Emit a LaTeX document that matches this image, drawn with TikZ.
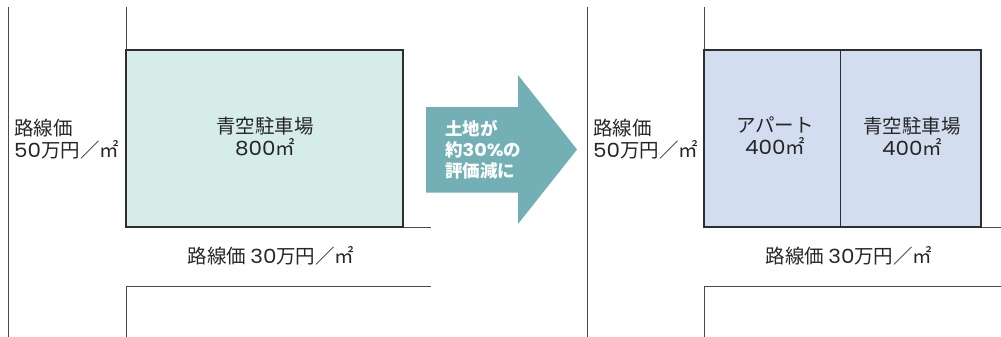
\documentclass[tikz,border=0pt]{standalone}
\usepackage{fontspec}
\newfontfamily\cjk{Noto Sans CJK JP}
\newfontfamily\dig{Poppins}[FakeStretch=1.1]
\definecolor{roadline}{HTML}{4A4A4A}
\definecolor{lotline}{HTML}{2E2E2E}
\definecolor{lotA}{HTML}{D5ECE9}
\definecolor{lotB}{HTML}{D3DDF0}
\definecolor{arrowfill}{HTML}{72B0B6}
\begin{document}
\begin{tikzpicture}[x=1pt,y=-1pt,
  road/.style={draw=roadline,line width=1pt},
  lot/.style={draw=lotline,line width=1.1pt},
  lbl/.style={font=\cjk\fontsize{19.5}{22}\selectfont,text=black!85,inner sep=0pt,align=center},
  lbll/.style={lbl,align=left,anchor=west}]
\useasboundingbox (0,0) rectangle (1001,337);
% ---- left panel
\draw[road] (8,7) -- (8,337);
\draw[road] (126,7) -- (126,50);
\draw[road] (403,227) -- (431,227);
\draw[road] (431,286) -- (126,286) -- (126,337);
\draw[lot,fill=lotA] (126,50) rectangle (403,227);
\node[lbll] (l1) at (14,139) {路線価\\{\dig 50}万円／㎡};
\node[lbl] (p1) at (265,136) {青空駐車場\\{\dig 800}㎡};
\node[lbl] (r1) at (271,256) {路線価 {\dig 30}万円／㎡};
% ---- arrow
\fill[arrowfill] (426,107) -- (518,107) -- (518,75) -- (577,149.5) -- (518,224) -- (518,192.5) -- (426,192.5) -- cycle;
\node[font=\cjk\bfseries\fontsize{17.5}{21}\selectfont,text=white,align=left,anchor=west,inner sep=0pt] (ar) at (445,149.5) {土地が\\約{\dig\bfseries 30\%}の\\評価減に};
% ---- right panel
\draw[road] (587,7) -- (587,337);
\draw[road] (704,7) -- (704,50);
\draw[road] (981,227) -- (1001,227);
\draw[road] (1001,286) -- (704,286) -- (704,337);
\draw[lot,fill=lotB] (704,50) rectangle (981,227);
\draw[lot] (840.5,50) -- (840.5,227);
\node[lbll] (l2) at (593,139) {路線価\\{\dig 50}万円／㎡};
\node[lbl] (p2) at (775,136) {アパート\\{\dig 400}㎡};
\node[lbl] (p3) at (912,136) {青空駐車場\\{\dig 400}㎡};
\node[lbl] (r2) at (849,256) {路線価 {\dig 30}万円／㎡};
\end{tikzpicture}
\end{document}
